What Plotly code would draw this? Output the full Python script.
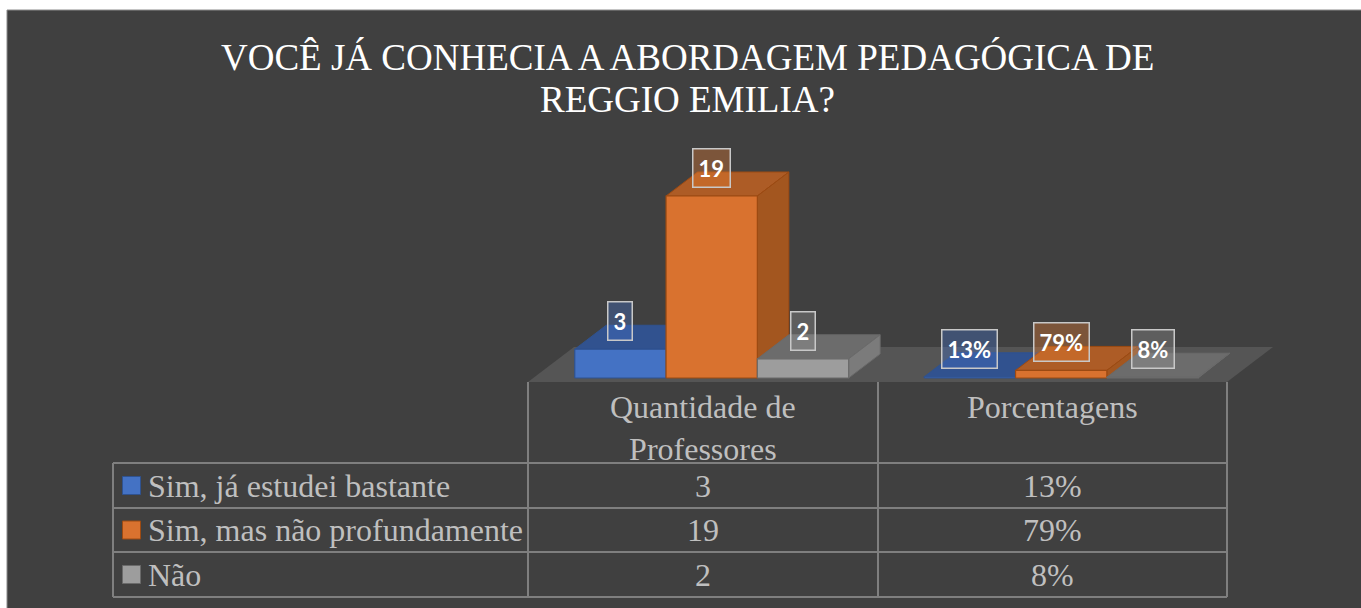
import plotly.graph_objects as go

# data
title_lines = ["VOCÊ JÁ CONHECIA A ABORDAGEM PEDAGÓGICA DE", "REGGIO EMILIA?"]
categories = ["Quantidade de<br>Professores", "Porcentagens"]
series = ["Sim, já estudei bastante", "Sim, mas não profundamente", "Não"]
quantidade = [3, 19, 2]
porcentagens = [0.13, 0.79, 0.08]

W, H = 1361, 608
BG = "#404040"
TXT = "#bfbfbf"
GRID = "#7f7f7f"

# face colours per series: front, top, side, edge, label fill
front_c = ["#4472c4", "#d9722f", "#9d9d9d"]
top_c = ["#31528f", "#ad5c26", "#6c6c6c"]
side_c = ["#2b4a82", "#a3561f", "#7b7b7b"]
edge_c = ["#2f528f", "#9c4a12", "#6a6a6a"]
label_bg = ["rgba(68,114,196,0.38)", "rgba(237,125,49,0.35)", "rgba(165,165,165,0.30)"]

# geometry (pixels) of the 3d plot
BASE_PX = 378          # pixel row of value 0
PPU = 182 / 19         # pixels per value unit
COL_EDGES = [528, 878, 1227]
BAR_W = 91.3
GROUP_SHIFT = 8.7
DX, DY_PX = 31.5, 24.0
DY = DY_PX / PPU


def px(x):
    return x / W


def py(y):
    return 1 - y / H


values = [quantidade, porcentagens]
labels = [[str(v) for v in quantidade], [f"{round(v * 100)}%" for v in porcentagens]]

fig = go.Figure()
annotations = []

for c, vals in enumerate(values):
    center = (COL_EDGES[c] + COL_EDGES[c + 1]) / 2 + GROUP_SHIFT
    left0 = center - 1.5 * BAR_W
    for s, v in enumerate(vals):
        x0 = left0 + s * BAR_W
        x1 = x0 + BAR_W
        # top face
        fig.add_trace(go.Scatter(
            x=[x0, x1, x1 + DX, x0 + DX, x0], y=[v, v, v + DY, v + DY, v],
            fill="toself", fillcolor=top_c[s], mode="lines",
            line=dict(color=edge_c[s], width=1), hoverinfo="skip", showlegend=False))
        # right side face
        fig.add_trace(go.Scatter(
            x=[x1, x1 + DX, x1 + DX, x1, x1], y=[v, v + DY, DY, 0, v],
            fill="toself", fillcolor=side_c[s], mode="lines",
            line=dict(color=edge_c[s], width=1), hoverinfo="skip", showlegend=False))
        # front face
        fig.add_trace(go.Scatter(
            x=[x0, x1, x1, x0, x0], y=[0, 0, v, v, 0],
            fill="toself", fillcolor=front_c[s], mode="lines",
            line=dict(color=edge_c[s], width=1.2), hoverinfo="skip",
            name=series[s], showlegend=False))
        annotations.append(dict(
            x=(x0 + x1) / 2, y=v, xref="x", yref="y", yshift=28,
            xanchor="center", yanchor="middle",
            text=f"<b>{labels[c][s]}</b>", showarrow=False,
            font=dict(family="Lato", size=22, color="white"),
            bgcolor=label_bg[s], bordercolor="#c8c8c8", borderwidth=1.5, borderpad=5))

# title
for i, line in enumerate(title_lines):
    annotations.append(dict(
        x=px(688), y=py(57 + 42.5 * i), xref="paper", yref="paper",
        xanchor="center", yanchor="middle",
        text=line, showarrow=False,
        font=dict(family="Liberation Serif", size=37, color="white")))

# data table header
for c, cat in enumerate(categories):
    annotations.append(dict(
        x=px((COL_EDGES[c] + COL_EDGES[c + 1]) / 2), y=py(387), xref="paper", yref="paper",
        xanchor="center", yanchor="top", text=cat, showarrow=False,
        font=dict(family="Liberation Serif", size=32, color=TXT)))

ROWS = [463, 508, 552, 597]
TABLE_L = 113
shapes = [
    dict(type="rect", xref="paper", yref="paper", x0=px(7), y0=py(10), x1=1.02, y1=-0.02,
         fillcolor=BG, line=dict(color="#8a8a8a", width=1), layer="below"),
    dict(type="path", xref="paper", yref="paper", layer="below",
         path=(f"M {px(528)} {py(382)} L {px(1227)} {py(382)} "
               f"L {px(1273)} {py(347)} L {px(574)} {py(347)} Z"),
         fillcolor="#555555", line=dict(width=0)),
]

for r, name in enumerate(series):
    yc = (ROWS[r] + ROWS[r + 1]) / 2
    shapes.append(dict(type="rect", xref="paper", yref="paper",
                       x0=px(122.5), x1=px(140.5), y0=py(yc - 9), y1=py(yc + 9),
                       fillcolor=front_c[r], line=dict(color=edge_c[r], width=1)))
    annotations.append(dict(
        x=px(146), y=py(yc), xref="paper", yref="paper",
        xanchor="left", yanchor="middle",
        text=name, showarrow=False,
        font=dict(family="Liberation Serif", size=32, color=TXT)))
    for c in range(2):
        annotations.append(dict(
            x=px((COL_EDGES[c] + COL_EDGES[c + 1]) / 2), y=py(yc), xref="paper", yref="paper",
            xanchor="center", yanchor="middle",
            text=labels[c][r], showarrow=False,
            font=dict(family="Liberation Serif", size=32, color=TXT)))

# grid lines of the table
for yrow in ROWS:
    shapes.append(dict(type="line", xref="paper", yref="paper",
                       x0=px(TABLE_L), x1=px(COL_EDGES[-1]), y0=py(yrow), y1=py(yrow),
                       line=dict(color=GRID, width=2)))
shapes.append(dict(type="line", xref="paper", yref="paper",
                   x0=px(TABLE_L), x1=px(TABLE_L), y0=py(ROWS[0]), y1=py(ROWS[-1]),
                   line=dict(color=GRID, width=2)))
for xe in COL_EDGES:
    shapes.append(dict(type="line", xref="paper", yref="paper",
                       x0=px(xe), x1=px(xe), y0=py(382), y1=py(ROWS[-1]),
                       line=dict(color=GRID, width=2)))

fig.update_layout(
    width=W, height=H,
    margin=dict(l=0, r=0, t=0, b=0),
    paper_bgcolor="white",
    plot_bgcolor="rgba(0,0,0,0)",
    xaxis=dict(range=[0, W], visible=False, fixedrange=True),
    yaxis=dict(range=[-(H - BASE_PX) / PPU, BASE_PX / PPU], visible=False, fixedrange=True),
    shapes=shapes,
    annotations=annotations,
    showlegend=False,
)

fig.write_html("out.html", config={"displayModeBar": False},
               post_script="document.body.style.margin='0px';")
